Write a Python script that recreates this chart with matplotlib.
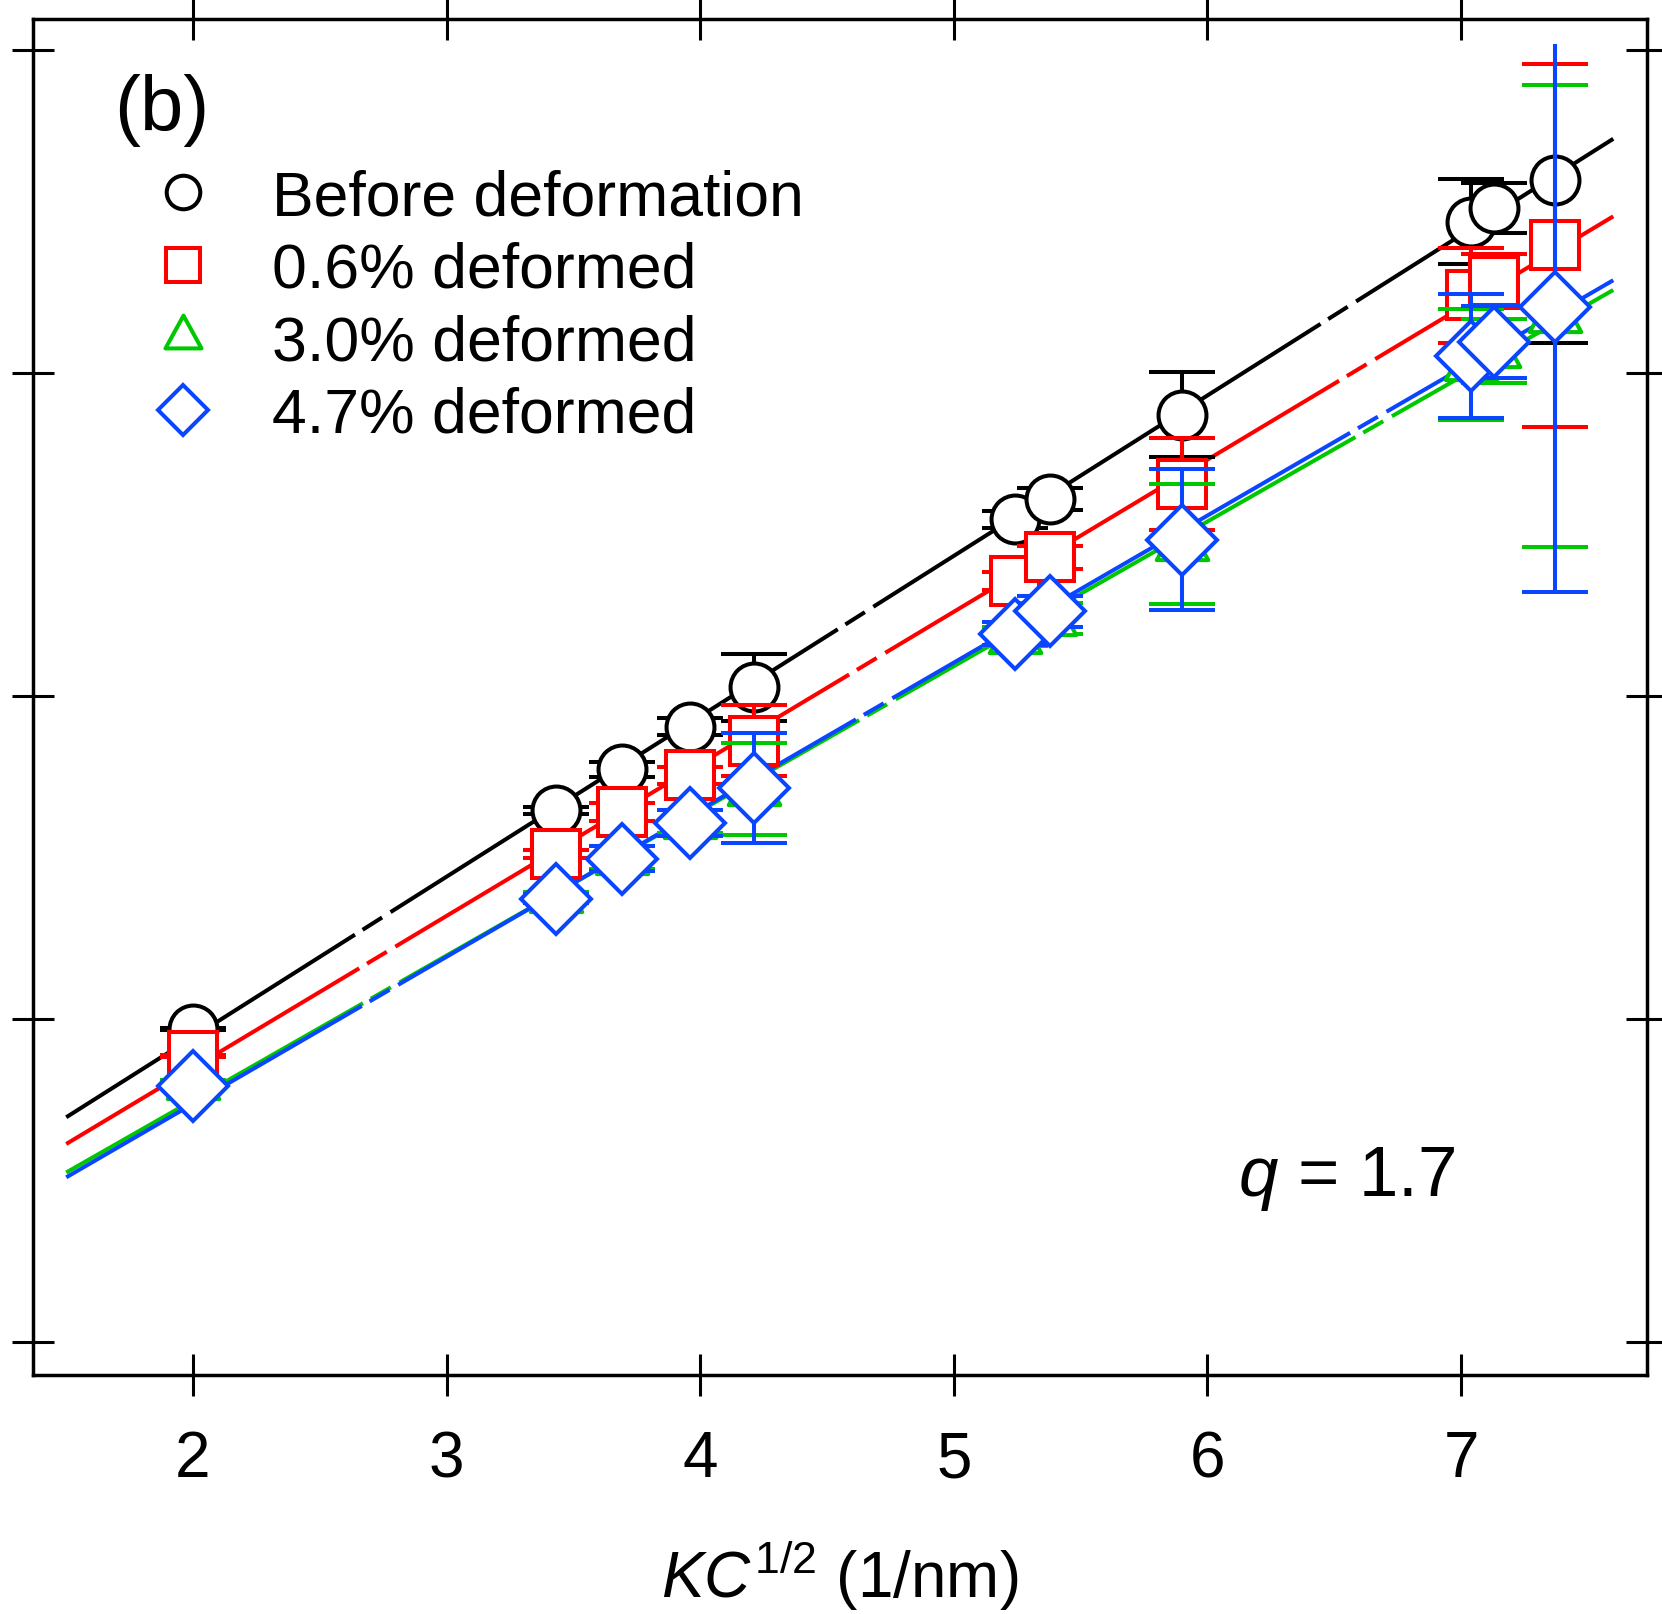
import matplotlib
matplotlib.use('Agg')
import matplotlib.pyplot as plt
from matplotlib.lines import Line2D
from matplotlib.path import Path
from matplotlib.transforms import Bbox, TransformedBbox

plt.rcParams['font.family'] = ['Liberation Sans', 'DejaVu Sans']
plt.rcParams['mathtext.fontset'] = 'custom'
plt.rcParams['mathtext.rm'] = 'Liberation Sans'
plt.rcParams['mathtext.it'] = 'Liberation Sans:italic'
plt.rcParams['lines.scale_dashes'] = False

# data (y axis is unlabelled, ticks at 0..4)
x = [2.00, 3.43, 3.69, 3.96, 4.21, 5.24, 5.38, 5.90, 7.04, 7.13, 7.37]

y_before = [0.969, 1.646, 1.773, 1.905, 2.027, 2.547, 2.610, 2.871, 3.468, 3.511, 3.598]
e_before = [0.003, 0.011, 0.023, 0.027, 0.103, 0.027, 0.033, 0.132, 0.132, 0.077, 0.506]

y_06 = [0.885, 1.512, 1.642, 1.754, 1.862, 2.357, 2.429, 2.656, 3.241, 3.285, 3.395]
e_06 = [0.003, 0.012, 0.028, 0.027, 0.111, 0.028, 0.036, 0.142, 0.147, 0.083, 0.563]

y_30 = [0.802, 1.381, 1.500, 1.611, 1.712, 2.184, 2.240, 2.471, 3.027, 3.068, 3.176]
e_30 = [0.010, 0.012, 0.035, 0.035, 0.142, 0.030, 0.048, 0.186, 0.172, 0.099, 0.715]

y_47 = [0.793, 1.373, 1.497, 1.607, 1.715, 2.193, 2.262, 2.484, 3.053, 3.096, 3.205]
e_47 = [0.010, 0.015, 0.039, 0.039, 0.170, 0.036, 0.049, 0.218, 0.192, 0.110, 0.882]

# linear fits (slope, intercept) drawn from x = 1.5 to 7.6
fit_x = [1.5, 7.6]
fit_slope = [0.4966, 0.4708, 0.4479, 0.4553]
fit_icpt = [-0.049, -0.093, -0.147, -0.173]

labels = ['Before deformation', '0.6% deformed', '3.0% deformed', '4.7% deformed']
colors = ['black', '#ff0000', '#00c800', '#0a46ff']

tri = Path([(0, 0.667), (-0.55, -0.333), (0.55, -0.333), (0, 0.667)],
           [Path.MOVETO, Path.LINETO, Path.LINETO, Path.CLOSEPOLY])
markers = ['o', 's', tri, 'D']
msizes = [34.5, 34.5, 45, 36]

ys = [y_before, y_06, y_30, y_47]
es = [e_before, e_06, e_30, e_47]

fig = plt.figure(figsize=(16.62, 16.15), dpi=100)
ax = fig.add_axes([33 / 1662, 1 - 1376 / 1615, 1614 / 1662, 1356 / 1615])

lw = 2.9
for i in range(4):
    fy = [fit_slope[i] * xx + fit_icpt[i] for xx in fit_x]
    ax.plot(fit_x, fy, color=colors[i], lw=lw, zorder=2,
            ls=(135, (381, 6.5, 16.6, 7.2)), solid_capstyle='butt')

# error bars stop a little below the top frame, as in the original
clip = TransformedBbox(Bbox([[0, 0], [1, 1 - 25 / 1356]]), ax.transAxes)
for i in range(4):
    cont = ax.errorbar(x, ys[i], yerr=es[i], ls='none', marker=markers[i], ms=msizes[i],
                       mfc='white', mec=colors[i], mew=lw, ecolor=colors[i],
                       elinewidth=lw, capsize=24, capthick=lw, zorder=3 + i)
    for art in list(cont[1]) + list(cont[2]):
        art.set_clip_box(clip)

handles = [Line2D([], [], ls='none', marker=markers[i], ms=msizes[i] * 0.7,
                  mfc='white', mec=colors[i], mew=lw) for i in range(4)]
ax.legend(handles, labels, loc='upper left', bbox_to_anchor=(0.0744, 0.890),
          frameon=False, fontsize=45, handlelength=0.96, handletextpad=0.95,
          labelspacing=0.216, borderpad=0, borderaxespad=0)

ax.text(0.0505, 0.933, '(b)', transform=ax.transAxes, fontsize=56, va='center', ha='left')
ax.text(0.7466, 0.1327, r'$q$ = 1.7', transform=ax.transAxes, fontsize=51,
        va='baseline', ha='left')

ax.set_xlim(1.369, 7.733)
ax.set_ylim(-0.102, 4.096)
ax.set_xticks([2, 3, 4, 5, 6, 7])
ax.set_yticks([0, 1, 2, 3, 4])
ax.tick_params(direction='inout', length=30, width=2.2, top=True, right=True,
               labelleft=False, labelsize=46, pad=24)
for s in ax.spines.values():
    s.set_linewidth(2.5)

ax.set_xlabel(r'$KC^{1/2}$ (1/nm)', fontsize=46)
ax.xaxis.set_label_coords(0.5, -0.1637)
ax.xaxis.label.set_va('baseline')

fig.savefig('out.png', dpi=100)
